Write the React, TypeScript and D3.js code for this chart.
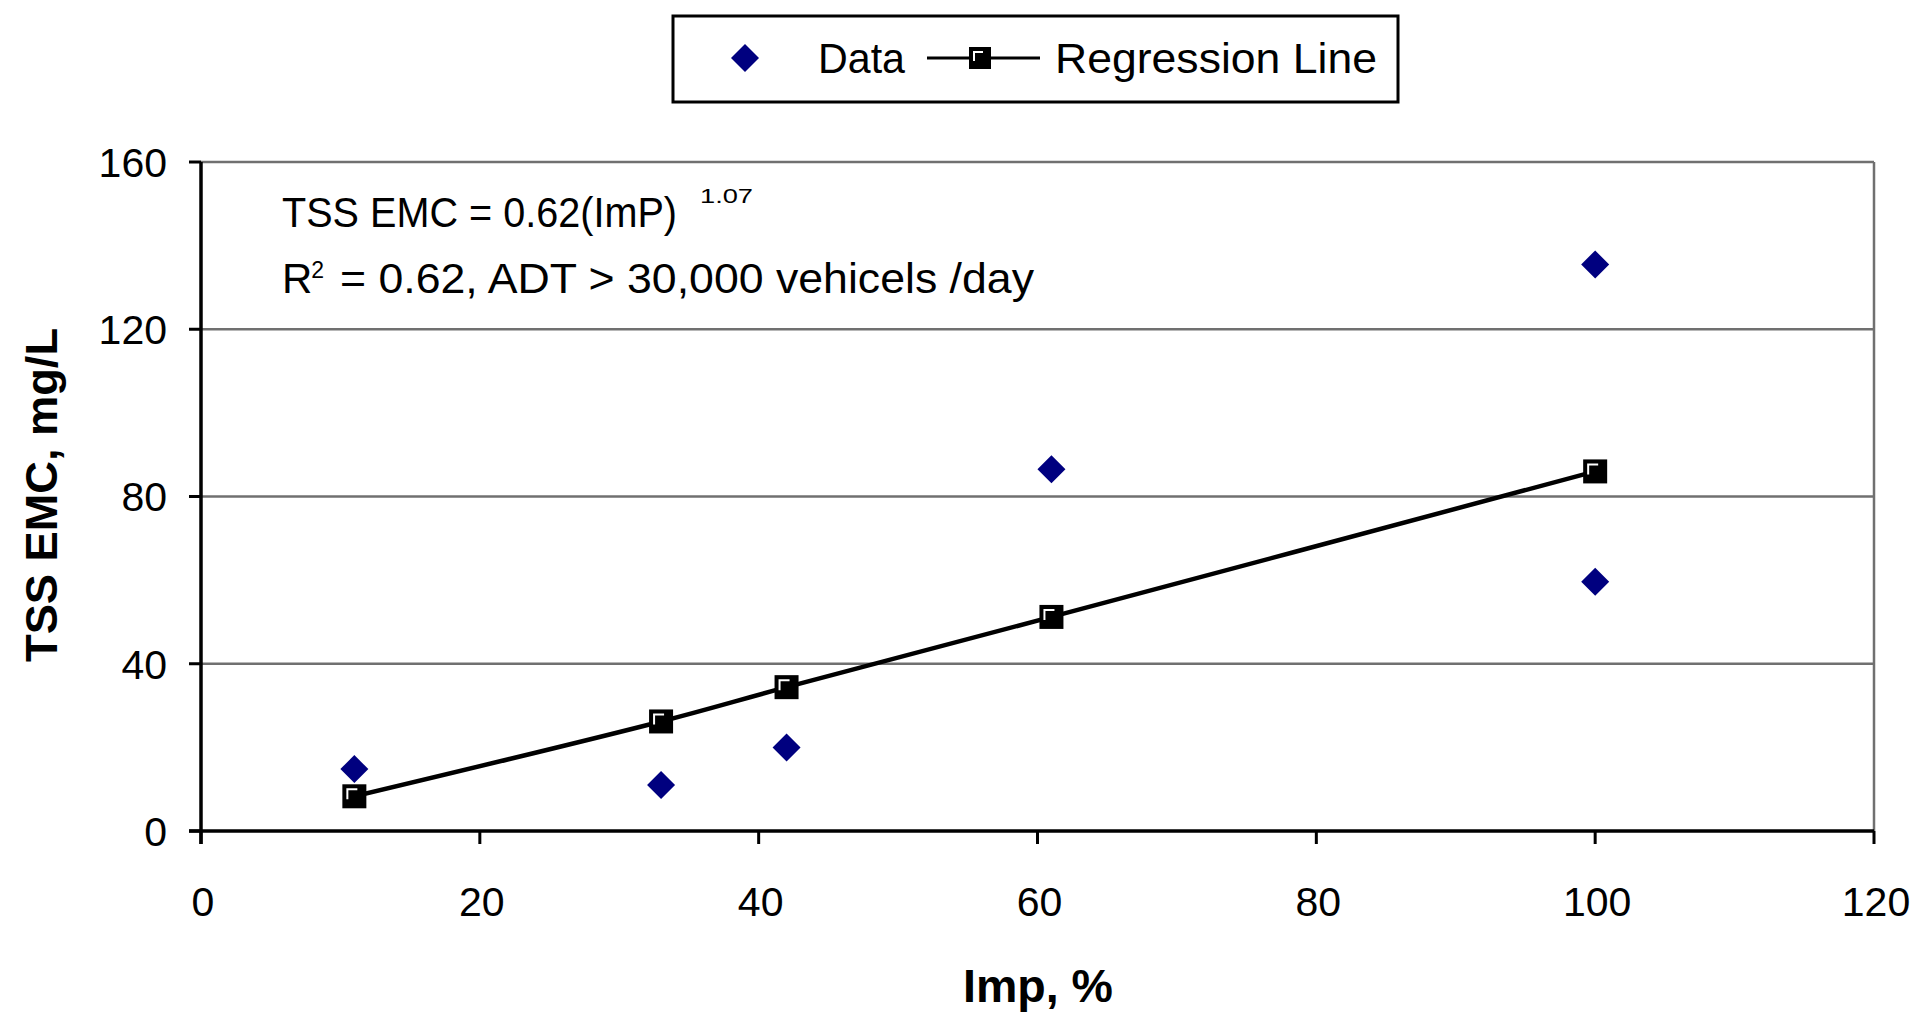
import React from "react";
import * as d3 from "d3";

const dataX = [11, 33, 42, 61, 100, 100];
const dataY = [14.8, 11, 20, 86.5, 135.5, 59.6];
const regX = [11, 33, 42, 61, 100];
const regY = [8.3, 26.2, 34.4, 51.2, 86];
const xTicks = [0, 20, 40, 60, 80, 100, 120];
const yTicks = [0, 40, 80, 120, 160];

const FONT = "'Liberation Sans', Arial, Helvetica, sans-serif";

export default function App() {
  const W = 1919, H = 1014;
  const x = d3.scaleLinear().domain([0, 120]).range([201, 1874]);
  const y = d3.scaleLinear().domain([0, 160]).range([831, 162]);
  const line = d3
    .line<number>()
    .x((_, i) => x(regX[i]))
    .y((d) => y(d))
    .curve(d3.curveCatmullRom.alpha(0.5));

  const diamond = (cx: number, cy: number, r: number) =>
    `M${cx},${cy - r}L${cx + r},${cy}L${cx},${cy + r}L${cx - r},${cy}Z`;

  const square = (cx: number, cy: number, key: string, s = 24) => (
    <g key={key}>
      <rect x={cx - s / 2} y={cy - s / 2} width={s} height={s} fill="#000" />
      <path d={`M${cx - s / 2 + 5},${cy + 3}V${cy - s / 2 + 5}H${cx + 3}`} stroke="#fff" strokeWidth={2} fill="none" />
    </g>
  );

  return (
    <svg width={W} height={H} style={{ position: "absolute", left: 0, top: 0, background: "#fff" }} fontFamily={FONT}>
      <rect x={0} y={0} width={W} height={H} fill="#fff" />
      {/* gridlines */}
      {yTicks.filter((t) => t > 0).map((t) => (
        <line key={"g" + t} x1={x(0)} x2={x(120)} y1={y(t)} y2={y(t)} stroke="#707070" strokeWidth={2.5} />
      ))}
      {/* right border */}
      <line x1={x(120)} x2={x(120)} y1={y(160)} y2={y(0)} stroke="#707070" strokeWidth={2.5} />
      {/* axes */}
      <line x1={x(0)} x2={x(0)} y1={y(160)} y2={y(0) + 13} stroke="#000" strokeWidth={3.5} />
      <line x1={x(0) - 12} x2={x(120)} y1={y(0)} y2={y(0)} stroke="#000" strokeWidth={3.5} />
      {yTicks.map((t) => (
        <g key={"yt" + t}>
          <line x1={x(0) - 12} x2={x(0)} y1={y(t)} y2={y(t)} stroke="#000" strokeWidth={3} />
          <text x={167} y={y(t)} dy="0.36em" textAnchor="end" fontSize={41} fill="#000">{t}</text>
        </g>
      ))}
      {xTicks.map((t) => (
        <g key={"xt" + t}>
          <line x1={x(t)} x2={x(t)} y1={y(0)} y2={y(0) + 13} stroke="#000" strokeWidth={3} />
          <text x={x(t) + 2} y={916} textAnchor="middle" fontSize={41} fill="#000">{t}</text>
        </g>
      ))}
      {/* axis titles */}
      <text x={1038} y={1002} textAnchor="middle" fontSize={46} fontWeight="bold" textLength={150} lengthAdjust="spacingAndGlyphs">Imp, %</text>
      <text transform="translate(57,495) rotate(-90)" textAnchor="middle" fontSize={44} fontWeight="bold" textLength={334} lengthAdjust="spacingAndGlyphs">TSS EMC, mg/L</text>

      {/* annotation */}
      <text x={282} y={227} fontSize={42} textLength={395} lengthAdjust="spacingAndGlyphs">TSS EMC = 0.62(ImP)</text>
      <text x={700} y={203} fontSize={21} textLength={53} lengthAdjust="spacingAndGlyphs">1.07</text>
      <text x={282} y={293} fontSize={42}>
        R<tspan fontSize={23} dx={-1} dy={-15}>2</tspan>
      </text>
      <text x={340} y={293} fontSize={42} textLength={694} lengthAdjust="spacingAndGlyphs">= 0.62, ADT &gt; 30,000 vehicels /day</text>

      {/* regression line */}
      <path d={line(regY) || ""} fill="none" stroke="#000" strokeWidth={4.5} />
      {regY.map((v, i) => square(x(regX[i]), y(v), "s" + i))}
      {/* data */}
      {dataY.map((v, i) => (
        <path key={"d" + i} d={diamond(x(dataX[i]), y(v), 14)} fill="#00007f" />
      ))}

      {/* legend */}
      <rect x={673} y={16} width={725} height={86} fill="#fff" stroke="#000" strokeWidth={3} />
      <path d={diamond(745, 58, 14)} fill="#00007f" />
      <text x={818} y={73} fontSize={42} textLength={87} lengthAdjust="spacingAndGlyphs">Data</text>
      <line x1={927} x2={1040} y1={58} y2={58} stroke="#000" strokeWidth={3} />
      {square(980, 58, "leg", 22)}
      <text x={1055} y={73} fontSize={42} textLength={322} lengthAdjust="spacingAndGlyphs">Regression Line</text>
    </svg>
  );
}
